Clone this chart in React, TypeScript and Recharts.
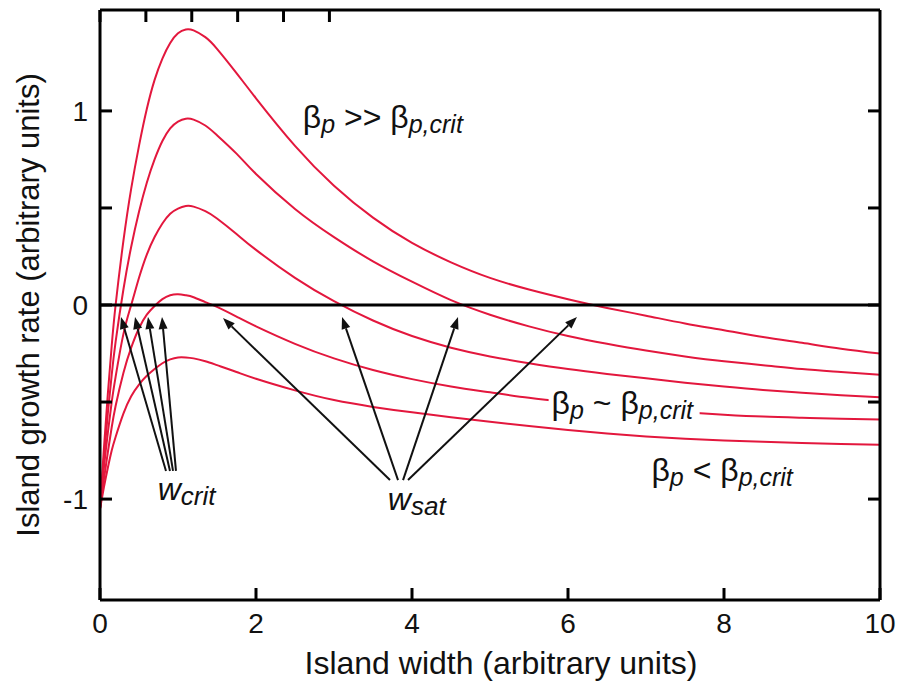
import { LineChart, Line, XAxis, YAxis, ReferenceLine, ReferenceDot } from 'recharts'

// island width samples (arbitrary units)
const widths = [0, 0.05, 0.1, 0.15, 0.2, 0.3, 0.4, 0.5, 0.6, 0.7, 0.8, 0.9, 1.0, 1.1, 1.2, 1.35, 1.5, 1.75, 2, 2.5, 3, 3.5, 4, 4.5, 5, 5.5, 6, 6.5, 7, 7.5, 8, 8.5, 9, 9.5, 10]

// growth rate curves, highest beta_p first
const rateHigh = [-1.05, -0.74, -0.46, -0.21, 0, 0.33, 0.6, 0.82, 1.01, 1.16, 1.27, 1.35, 1.4, 1.42, 1.415, 1.38, 1.32, 1.195, 1.065, 0.82, 0.615, 0.45, 0.32, 0.22, 0.14, 0.08, 0.03, -0.015, -0.055, -0.095, -0.13, -0.165, -0.195, -0.225, -0.25]
const rateMidHigh = [-1.05, -0.79, -0.56, -0.36, -0.19, 0.08, 0.3, 0.48, 0.63, 0.75, 0.845, 0.91, 0.945, 0.96, 0.955, 0.925, 0.875, 0.78, 0.675, 0.495, 0.35, 0.225, 0.12, 0.025, -0.05, -0.11, -0.16, -0.2, -0.235, -0.265, -0.29, -0.31, -0.33, -0.345, -0.36]
const rateMid = [-1.05, -0.84, -0.66, -0.5, -0.37, -0.15, 0, 0.14, 0.26, 0.35, 0.42, 0.47, 0.497, 0.51, 0.507, 0.484, 0.446, 0.366, 0.284, 0.14, 0.02, -0.08, -0.16, -0.22, -0.265, -0.3, -0.33, -0.355, -0.378, -0.4, -0.42, -0.438, -0.452, -0.465, -0.475]
const rateCrit = [-1.05, -0.9, -0.76, -0.63, -0.52, -0.35, -0.22, -0.12, -0.05, -0.005, 0.03, 0.05, 0.055, 0.05, 0.04, 0.015, -0.01, -0.06, -0.11, -0.2, -0.275, -0.335, -0.382, -0.42, -0.45, -0.478, -0.5, -0.52, -0.538, -0.553, -0.565, -0.575, -0.581, -0.586, -0.59]
const rateLow = [-1.05, -0.94, -0.84, -0.75, -0.68, -0.56, -0.47, -0.41, -0.365, -0.33, -0.3, -0.28, -0.27, -0.27, -0.275, -0.29, -0.31, -0.345, -0.38, -0.44, -0.49, -0.525, -0.553, -0.578, -0.602, -0.624, -0.644, -0.662, -0.677, -0.689, -0.698, -0.705, -0.711, -0.716, -0.72]

const xTicks = [0, 2, 4, 6, 8, 10]
const yTicks = [-1, -0.5, 0, 0.5, 1]

// annotation arrows: [fromW, fromRate, toW, toRate]
const critArrows = [
  [0.846, -0.855, 0.269, -0.062],
  [0.897, -0.855, 0.449, -0.062],
  [0.936, -0.855, 0.615, -0.062],
  [0.974, -0.855, 0.795, -0.062],
]
const satArrows = [
  [3.718, -0.902, 1.577, -0.067],
  [3.821, -0.902, 3.103, -0.062],
  [3.885, -0.902, 4.59, -0.062],
  [3.949, -0.902, 6.115, -0.062],
]

const regimeLabels = [
  { w: 2.6, rate: 0.912, rel: '>>', boxed: false },
  { w: 5.79, rate: -0.562, rel: '~', boxed: true },
  { w: 7.07, rate: -0.907, rel: '<', boxed: false },
]
const widthLabels = [
  { w: 0.74, rate: -1.005, sub: 'crit' },
  { w: 3.69, rate: -1.056, sub: 'sat' },
]

const series = [rateHigh, rateMidHigh, rateMid, rateCrit, rateLow]
const data = widths.map((w, i) => {
  const row: Record<string, number> = { w }
  series.forEach((s, k) => { row['c' + k] = s[i] })
  return row
})

const FONT = '"Liberation Sans", Arial, Helvetica, sans-serif'
const RED = '#e3173d'
const INK = '#111'
const DOMAIN: [number, number] = [-1.52, 1.52]

function Arrow(props: any) {
  const { x1, y1, x2, y2 } = props
  const a = Math.atan2(y2 - y1, x2 - x1)
  const len = 12, half = 4.5
  const bx = x2 - len * Math.cos(a)
  const by = y2 - len * Math.sin(a)
  const px = -Math.sin(a) * half
  const py = Math.cos(a) * half
  return (
    <g>
      <line x1={x1} y1={y1} x2={bx} y2={by} stroke={INK} strokeWidth={2} />
      <polygon points={`${x2},${y2} ${bx + px},${by + py} ${bx - px},${by - py}`} fill={INK} />
    </g>
  )
}

function RegimeLabel({ cx, cy, rel, boxed }: any) {
  return (
    <g>
      {boxed && <rect x={cx - 3} y={cy - 20} width={151} height={30} fill="#fff" />}
      <text x={cx} y={cy} fontFamily={FONT} fontSize={32} fill={INK}>
        β<tspan fontSize={25} fontStyle="italic" dy={5}>p</tspan>
        <tspan dy={-5}>{` ${rel} β`}</tspan>
        <tspan fontSize={25} fontStyle="italic" dy={5}>p,crit</tspan>
      </text>
    </g>
  )
}

function WidthLabel({ cx, cy, sub }: any) {
  return (
    <text x={cx} y={cy} fontFamily={FONT} fontSize={32} fontStyle="italic" fill={INK}>
      w<tspan fontSize={26} dy={5}>{sub}</tspan>
    </text>
  )
}

const axisLine = { stroke: '#000', strokeWidth: 3 }
const tickStyle = { fontSize: 28, fill: INK, fontFamily: FONT }
const noLabel = () => ''

export default function App() {
  return (
    <div style={{ position: 'absolute', left: 0, top: 0, background: '#fff' }}>
      <LineChart width={902} height={690} data={data} margin={{ top: 0, right: 0, bottom: 0, left: 0 }}>
        <XAxis
          dataKey="w" type="number" domain={[0, 10]} ticks={xTicks} interval={0} allowDataOverflow
          height={90} tickSize={-12} tickMargin={25} axisLine={axisLine} tickLine={axisLine} tick={tickStyle}
          label={{ value: 'Island width (arbitrary units)', position: 'insideBottom', offset: 16, dx: 11, fontSize: 32, fill: INK, fontFamily: FONT }}
        />
        <XAxis
          xAxisId="top" orientation="top" type="number" domain={[0, 10]} ticks={xTicks} interval={0} allowDataOverflow
          height={10} tickSize={-12} axisLine={axisLine} tickLine={axisLine} tick={tickStyle} tickFormatter={noLabel}
        />
        <YAxis
          type="number" domain={DOMAIN} ticks={yTicks} interval={0} allowDataOverflow
          width={100} tickSize={-12} tickMargin={24} axisLine={axisLine} tickLine={axisLine} tick={tickStyle}
          tickFormatter={(v: number) => (Number.isInteger(v) ? String(v) : '')}
          label={{ value: 'Island growth rate (arbitrary units)', angle: -90, position: 'center', dx: -22, fontSize: 31, fill: INK, fontFamily: FONT }}
        />
        <YAxis
          yAxisId="right" orientation="right" type="number" domain={DOMAIN} ticks={yTicks} interval={0} allowDataOverflow
          width={22} tickSize={-12} axisLine={axisLine} tickLine={axisLine} tick={tickStyle} tickFormatter={noLabel}
        />
        {series.map((_, k) => (
          <Line key={k} dataKey={'c' + k} type="natural" stroke={RED} strokeWidth={2} dot={false} isAnimationActive={false} />
        ))}
        <ReferenceLine y={0} stroke="#000" strokeWidth={3} />
        {[...critArrows, ...satArrows].map((a, i) => (
          <ReferenceLine key={'a' + i} segment={[{ x: a[0], y: a[1] }, { x: a[2], y: a[3] }]} shape={Arrow} />
        ))}
        {regimeLabels.map((l, i) => (
          <ReferenceDot key={'r' + i} x={l.w} y={l.rate} r={0}
            shape={(p: any) => <RegimeLabel cx={p.cx} cy={p.cy} rel={l.rel} boxed={l.boxed} />} />
        ))}
        {widthLabels.map((l, i) => (
          <ReferenceDot key={'w' + i} x={l.w} y={l.rate} r={0}
            shape={(p: any) => <WidthLabel cx={p.cx} cy={p.cy} sub={l.sub} />} />
        ))}
      </LineChart>
    </div>
  )
}
